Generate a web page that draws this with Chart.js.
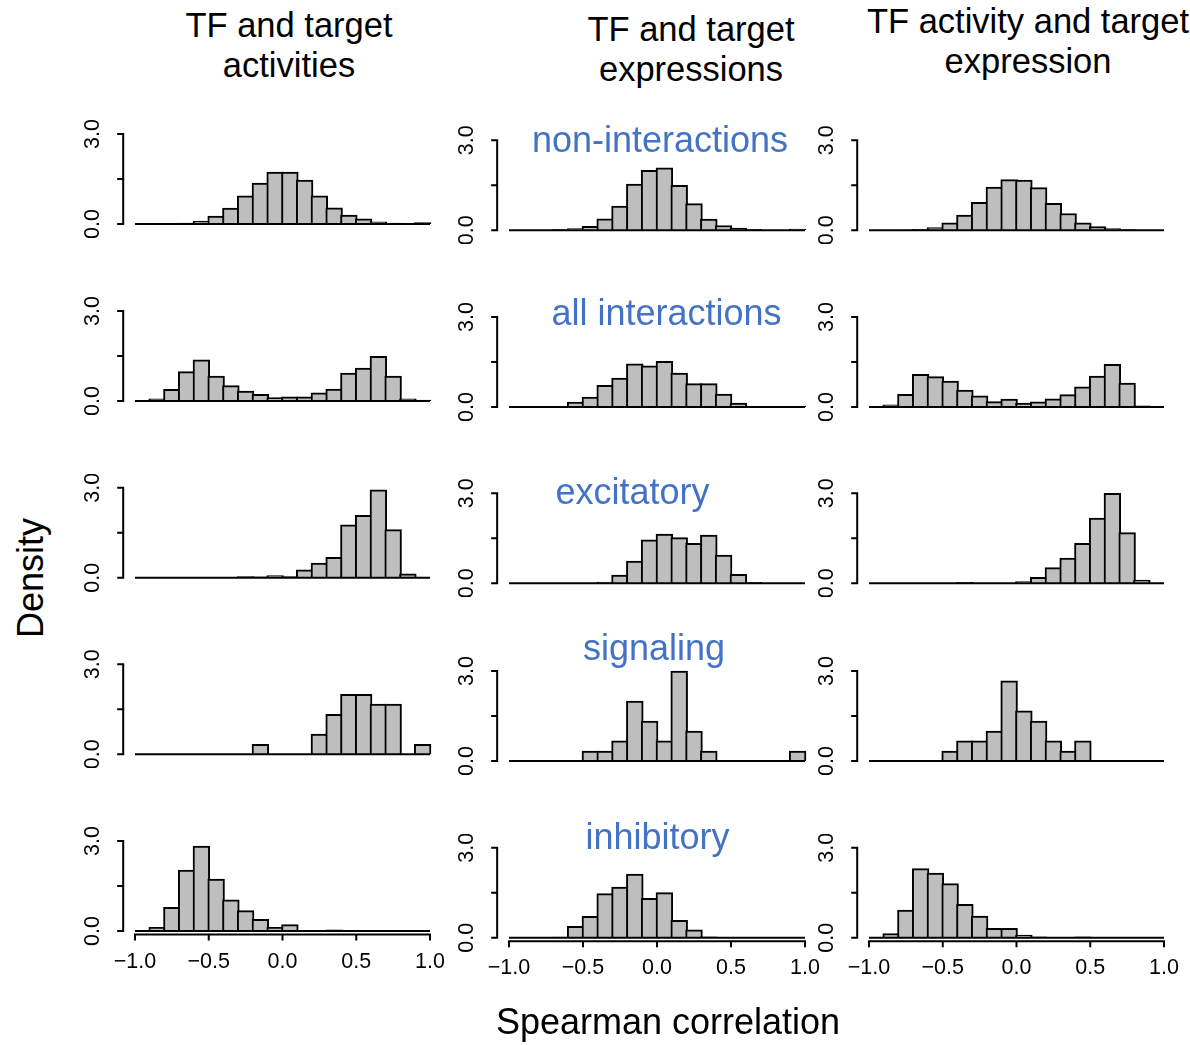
<!DOCTYPE html>
<html>
<head>
<meta charset="utf-8">
<title>Spearman correlation histograms</title>
<script src="https://cdn.jsdelivr.net/npm/chart.js@4.4.1/dist/chart.umd.min.js"></script>
<style>
  html, body { margin: 0; padding: 0; background: #ffffff; }
  #page { position: relative; width: 1190px; height: 1045px; overflow: hidden;
          font-family: "Liberation Sans", Arial, Helvetica, sans-serif; }
  #page canvas { position: absolute; }
  .txt { position: absolute; white-space: nowrap; line-height: 1; z-index: 5; }
</style>
</head>
<body>
<div id="page"></div>
<script>
// ---- data -------------------------------------------------------------
// histogram bins: width 0.1 between -1 and 1 (bin centres)
const binCenters = [-0.95, -0.85, -0.75, -0.65, -0.55, -0.45, -0.35, -0.25, -0.15, -0.05,
                     0.05,  0.15,  0.25,  0.35,  0.45,  0.55,  0.65,  0.75,  0.85,  0.95];
const histRange = [-1, 1];

const xTickValues = [-1, -0.5, 0, 0.5, 1];
const xTickLabels = ['\u22121.0', '\u22120.5', '0.0', '0.5', '1.0'];
const yTickValues = [0, 1.5, 3];
const yTickLabels = ['0.0', '', '3.0'];

const columnTitles = [
  ['TF and target', 'activities'],
  ['TF and target', 'expressions'],
  ['TF activity and target', 'expression']
];
const rowLabels = ['non-interactions', 'all interactions', 'excitatory', 'signaling', 'inhibitory'];

// densities: TF and target activities
const actNon = [0, 0, 0, 0.03, 0.10, 0.26, 0.53, 0.94, 1.36, 1.73, 1.73, 1.46, 0.94, 0.54, 0.30, 0.17, 0.07, 0.03, 0, 0.05];
const actAll = [0, 0.07, 0.39, 0.98, 1.37, 0.83, 0.51, 0.33, 0.22, 0.11, 0.14, 0.14, 0.27, 0.40, 0.93, 1.10, 1.49, 0.83, 0.07, 0.03];
const actExc = [0, 0, 0, 0, 0, 0, 0, 0.04, 0.03, 0.07, 0.04, 0.26, 0.49, 0.68, 1.76, 2.08, 2.93, 1.60, 0.13, 0];
const actSig = [0, 0, 0, 0, 0, 0, 0, 0, 0.33, 0, 0, 0, 0.67, 1.33, 2.00, 2.00, 1.67, 1.67, 0, 0.33];
const actInh = [0, 0.12, 0.79, 2.03, 2.83, 1.73, 1.04, 0.68, 0.39, 0.12, 0.21, 0, 0, 0.04, 0, 0, 0, 0, 0, 0];

// densities: TF and target expressions
const expNon = [0, 0, 0, 0.02, 0.06, 0.13, 0.38, 0.81, 1.54, 2.00, 2.08, 1.50, 0.89, 0.37, 0.16, 0.07, 0.03, 0, 0, 0.04];
const expAll = [0, 0, 0, 0.02, 0.16, 0.33, 0.72, 0.96, 1.44, 1.37, 1.52, 1.13, 0.78, 0.78, 0.43, 0.13, 0.02, 0, 0, 0.02];
const expExc = [0, 0, 0, 0, 0, 0, 0.04, 0.27, 0.74, 1.45, 1.64, 1.52, 1.33, 1.61, 0.94, 0.30, 0.03, 0, 0, 0];
const expSig = [0, 0, 0, 0, 0, 0.33, 0.33, 0.67, 2.00, 1.33, 0.67, 3.00, 1.00, 0.33, 0, 0, 0, 0, 0, 0.33];
const expInh = [0, 0, 0, 0.02, 0.38, 0.71, 1.47, 1.69, 2.12, 1.31, 1.50, 0.58, 0.26, 0.03, 0, 0, 0, 0, 0, 0];

// densities: TF activity and target expression
const mixNon = [0, 0, 0.01, 0.03, 0.09, 0.25, 0.51, 0.93, 1.44, 1.69, 1.67, 1.42, 0.90, 0.56, 0.25, 0.12, 0.06, 0.02, 0, 0];
const mixAll = [0, 0.07, 0.42, 1.09, 1.01, 0.86, 0.56, 0.37, 0.18, 0.26, 0.13, 0.17, 0.27, 0.41, 0.67, 1.03, 1.42, 0.80, 0.04, 0];
const mixExc = [0, 0, 0, 0, 0, 0, 0.03, 0, 0, 0, 0.06, 0.20, 0.52, 0.84, 1.33, 2.17, 3.00, 1.69, 0.11, 0];
const mixSig = [0, 0, 0, 0, 0, 0.33, 0.67, 0.67, 1.00, 2.67, 1.67, 1.33, 0.67, 0.33, 0.67, 0, 0, 0, 0, 0];
const mixInh = [0, 0.14, 0.92, 2.30, 2.15, 1.80, 1.11, 0.72, 0.31, 0.31, 0.09, 0.03, 0, 0, 0.03, 0, 0, 0, 0, 0];

const panels = [
  [actNon, actAll, actExc, actSig, actInh],
  [expNon, expAll, expExc, expSig, expInh],
  [mixNon, mixAll, mixExc, mixSig, mixInh]
];

// ---- layout (page pixels) ---------------------------------------------
const colX = [[135, 430], [509, 805], [869, 1164]];        // pixel of x = -1 and x = 1
const rowZero = [
  [224, 401, 577.7, 754.3, 931],
  [230.3, 407, 583.3, 761, 937.7],
  [230.3, 407, 583.3, 761, 937.7]
];
const pxPerDensity = 30;
const FONT = '"Liberation Sans", Arial, Helvetica, sans-serif';
const BAR_FILL = '#BEBEBE';
const LABEL_BLUE = '#4472C4';

const page = document.getElementById('page');

// R-style axes: y axis offset to the left with rotated labels, x axis on bottom row
const rAxes = {
  id: 'rAxes',
  afterDraw(chart, args, opts) {
    const { ctx, chartArea } = chart;
    const x = chart.scales.x, y = chart.scales.y;
    ctx.save();
    ctx.strokeStyle = '#000';
    ctx.fillStyle = '#000';
    ctx.lineWidth = 2;
    ctx.lineCap = 'butt';

    const left = chartArea.left;
    const yLo = y.getPixelForValue(yTickValues[0]);
    const yHi = y.getPixelForValue(yTickValues[yTickValues.length - 1]);
    ctx.beginPath();
    ctx.moveTo(left, yLo + 1);
    ctx.lineTo(left, yHi - 1);
    yTickValues.forEach(v => {
      const py = y.getPixelForValue(v);
      ctx.moveTo(left + 1, py);
      ctx.lineTo(left - 6, py);
    });
    ctx.stroke();

    ctx.font = '21.5px ' + FONT;
    ctx.textAlign = 'center';
    ctx.textBaseline = 'alphabetic';
    yTickValues.forEach((v, i) => {
      if (!yTickLabels[i]) return;
      ctx.save();
      ctx.translate(left - 24.3, y.getPixelForValue(v));
      ctx.rotate(-Math.PI / 2);
      ctx.fillText(yTickLabels[i], 0, 0);
      ctx.restore();
    });

    if (opts.showX) {
      const bottom = chartArea.bottom;
      const xLo = x.getPixelForValue(xTickValues[0]);
      const xHi = x.getPixelForValue(xTickValues[xTickValues.length - 1]);
      ctx.beginPath();
      ctx.moveTo(xLo - 1, bottom);
      ctx.lineTo(xHi + 1, bottom);
      xTickValues.forEach(v => {
        const px = x.getPixelForValue(v);
        ctx.moveTo(px, bottom - 1);
        ctx.lineTo(px, bottom + 6);
      });
      ctx.stroke();
      xTickValues.forEach((v, i) => {
        ctx.fillText(xTickLabels[i], x.getPixelForValue(v), bottom + 33);
      });
    }
    ctx.restore();
  }
};

function makePanel(col, row) {
  const [xm1, xp1] = colX[col];
  const unitX = (xp1 - xm1) / 2;
  const y0 = rowZero[col][row];
  const isBottom = row === rowZero[col].length - 1;

  const areaLeft = xm1 - 0.08 * unitX;
  const areaRight = xp1 + 0.08 * unitX;
  const areaTop = y0 - 3.12 * pxPerDensity;
  const areaBottom = y0 + 0.12 * pxPerDensity;

  const cl = Math.floor(areaLeft) - 56;
  const ct = Math.floor(areaTop) - 10;
  const cw = Math.ceil(areaRight) + 10 - cl;
  const ch = Math.ceil(areaBottom) + (isBottom ? 48 : 10) - ct;

  const canvas = document.createElement('canvas');
  canvas.width = cw; canvas.height = ch;
  canvas.style.left = cl + 'px'; canvas.style.top = ct + 'px';
  canvas.style.width = cw + 'px'; canvas.style.height = ch + 'px';
  page.appendChild(canvas);

  const values = panels[col][row];
  new Chart(canvas, {
    data: {
      datasets: [
        {
          type: 'line',
          data: [{ x: histRange[0], y: 0 }, { x: histRange[1], y: 0 }],
          borderColor: '#000',
          borderWidth: 2,
          pointRadius: 0,
          fill: false,
          order: 0
        },
        {
          type: 'bar',
          data: binCenters.map((c, i) => ({ x: c, y: values[i] })),
          backgroundColor: BAR_FILL,
          borderColor: '#000',
          borderWidth: 2,
          borderSkipped: 'start',
          barThickness: 0.1 * unitX + 2,
          order: 1
        }
      ]
    },
    options: {
      responsive: false,
      animation: false,
      devicePixelRatio: 1,
      events: [],
      layout: {
        padding: {
          left: areaLeft - cl,
          right: cl + cw - areaRight,
          top: areaTop - ct,
          bottom: ct + ch - areaBottom
        }
      },
      plugins: {
        legend: { display: false },
        tooltip: { enabled: false },
        rAxes: { showX: isBottom }
      },
      scales: {
        x: {
          type: 'linear', display: false, min: -1.08, max: 1.08,
          offset: false,
          grid: { offset: false },
          afterBuildTicks: s => { s.ticks = xTickValues.map(v => ({ value: v })); }
        },
        y: {
          type: 'linear', display: false, min: -0.12, max: 3.12,
          afterBuildTicks: s => { s.ticks = yTickValues.map(v => ({ value: v })); }
        }
      }
    },
    plugins: [rAxes]
  });
}

for (let c = 0; c < 3; c++) {
  for (let r = 0; r < 5; r++) makePanel(c, r);
}

// ---- text ---------------------------------------------------------------
function addText(text, cx, baseline, size, color) {
  const d = document.createElement('div');
  d.className = 'txt';
  d.textContent = text;
  d.style.fontSize = size + 'px';
  d.style.color = color;
  d.style.left = cx + 'px';
  d.style.top = (baseline - 0.8465 * size) + 'px';
  d.style.transform = 'translateX(-50%)';
  page.appendChild(d);
}
function addRotatedText(text, cx, cy, size, color) {
  const d = document.createElement('div');
  d.className = 'txt';
  d.textContent = text;
  d.style.fontSize = size + 'px';
  d.style.color = color;
  d.style.left = cx + 'px';
  d.style.top = cy + 'px';
  d.style.transform = 'translate(-50%, -50%) rotate(-90deg)';
  page.appendChild(d);
}

const titleCx = [289, 691, 1028];
const titleBase = [[37, 77], [41, 81], [33, 73]];
columnTitles.forEach((lines, c) => {
  lines.forEach((line, k) => addText(line, titleCx[c], titleBase[c][k], 34.5, '#000'));
});

const rowLabelCx = [660, 666.5, 632.5, 654, 657.5];
const rowLabelBase = [152, 325, 504, 660, 849];
rowLabels.forEach((t, r) => addText(t, rowLabelCx[r], rowLabelBase[r], 36, LABEL_BLUE));

addText('Spearman correlation', 668, 1034, 36, '#000');
addRotatedText('Density', 30.5, 578, 36, '#000');
</script>
</body>
</html>
